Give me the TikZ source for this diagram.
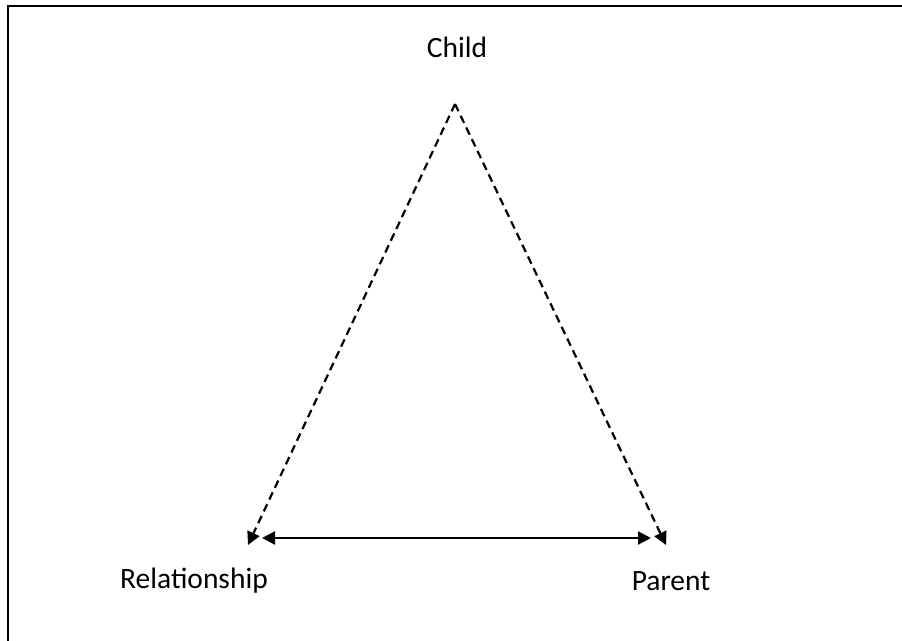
\documentclass[tikz,border=0pt]{standalone}
\usepackage{fontspec}
\setmainfont{Carlito}
\usetikzlibrary{arrows.meta}

\begin{document}
\begin{tikzpicture}[
  x=1pt,y=-1pt,
  font=\fontsize{29.5}{34}\selectfont,
  lbl/.style={inner sep=0pt,anchor=center},
  tri/.style={-{Triangle[length=13pt,width=13pt]}},
  dsh/.style={tri,line width=2.2pt,dash pattern=on 8pt off 5pt},
  sol/.style={{Triangle[length=13pt,width=13pt]}-{Triangle[length=13pt,width=13pt]},line width=2.2pt}
]
\useasboundingbox (0,0) rectangle (902,640);
% frame
\begin{scope}
\clip (0,0) rectangle (902,640);
\draw[line width=2.4pt] (8,6) rectangle (920,660);
\end{scope}
% labels
\node[lbl] (child) at (457,47) {Child};
\node[lbl] (rel) at (194,581) {Relationship};
\node[lbl] (par) at (671,581) {Parent};
% ends
\coordinate (apex) at (455,104);
\coordinate (relend) at (248,545);
\coordinate (parend) at (666,545);
\coordinate (hl) at (262,538);
\coordinate (hr) at (651,538);
\draw[dsh] (apex) -- (relend);
\draw[dsh] (apex) -- (parend);
\draw[sol] (hl) -- (hr);
\end{tikzpicture}
\end{document}
